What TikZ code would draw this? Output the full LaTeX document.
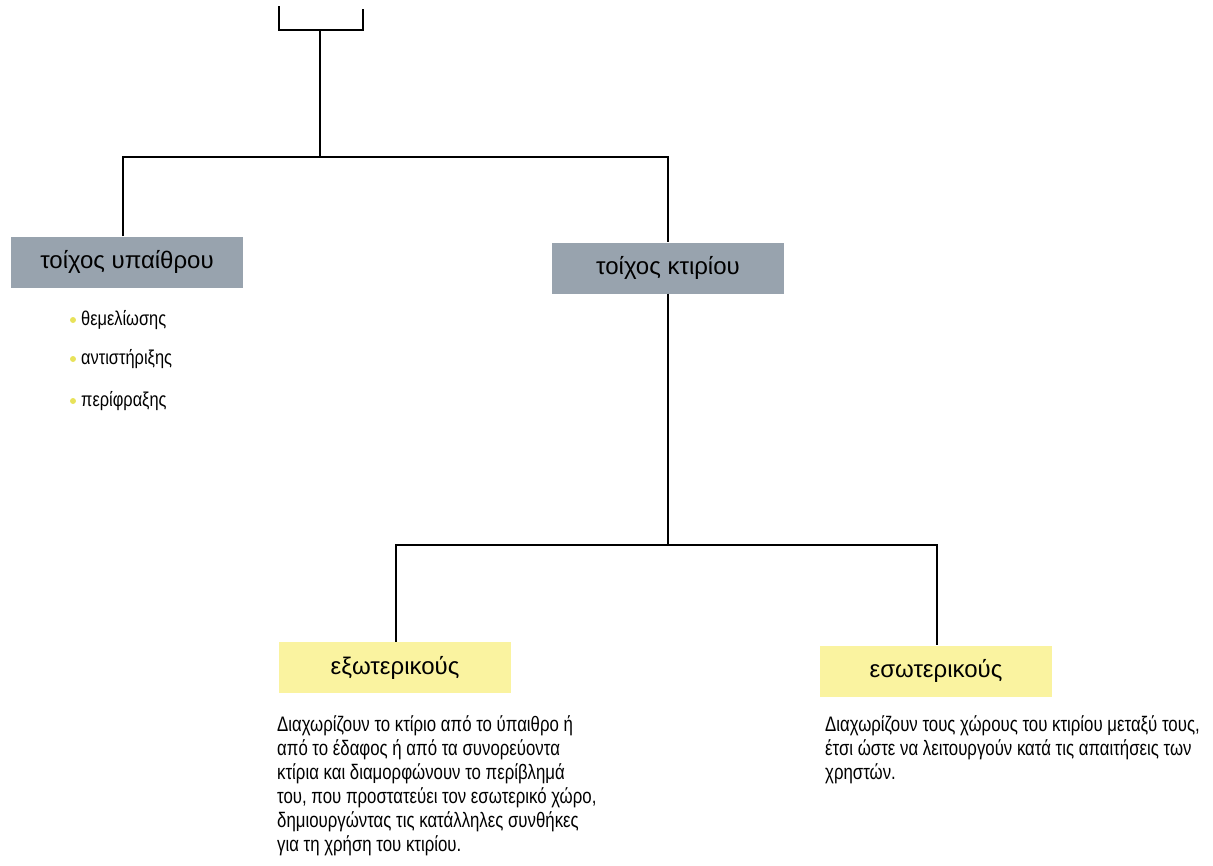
\documentclass[tikz,border=0pt]{standalone}
\usepackage{fontspec}
\setmainfont{Liberation Sans}
\newfontfamily\narrowfont{Liberation Sans}[FakeStretch=0.8]
\newfontfamily\bulletfont{Liberation Sans}[FakeStretch=0.82]
\definecolor{boxgray}{RGB}{152,163,174}
\definecolor{boxyellow}{RGB}{250,243,160}
\definecolor{dotyellow}{RGB}{232,226,90}
\begin{document}
\begin{tikzpicture}[x=1pt,y=-1pt,
  conn/.style={draw=black,line width=1.2pt},
  graybox/.style={fill=boxgray,minimum width=232,minimum height=51,inner sep=0,font=\fontsize{24}{28}\selectfont},
  yellowbox/.style={fill=boxyellow,minimum width=232,minimum height=51,inner sep=0,font=\fontsize{24}{28}\selectfont},
  para/.style={anchor=north west,inner sep=0,align=left,font=\narrowfont\fontsize{21}{24}\selectfont},
  bul/.style={circle,fill=dotyellow,inner sep=0,minimum size=6},
  bultext/.style={anchor=west,inner sep=0,font=\bulletfont\fontsize{20}{24}\selectfont}]
\useasboundingbox (0,0) rectangle (1213,865);
% nodes
\node[graybox] (tu) at (127,262) {τοίχος υπαίθρου};
\node[graybox] (tk) at (668,268) {τοίχος κτιρίου};
\node[yellowbox] (ex) at (395,667.5) {εξωτερικούς};
\node[yellowbox] (es) at (936,671) {εσωτερικούς};
% bracket at the top
\coordinate (tl) at (279,6);
\coordinate (tr) at (363,9);
\coordinate (bl) at (279,30);
\coordinate (br) at (363,30);
\coordinate (c) at (320,30);
\coordinate (j1) at (320,157);
\coordinate (j2) at (668,545);
\draw[conn] (tl) -- (bl) -- (br) -- (tr);
\draw[conn] (c) -- (j1);
\draw[conn] ([xshift=-4]tu.north) |- (j1) -| (tk.north);
\draw[conn] (tk.south) -- (j2);
\draw[conn] ([xshift=1]ex.north) |- (j2) -| ([xshift=1]es.north);
% bullet list
\node[bul] (b1) at (73,320) {};
\node[bultext] (t1) at (81,320) {θεμελίωσης};
\node[bul] (b2) at (73,359) {};
\node[bultext] (t2) at (81,359) {αντιστήριξης};
\node[bul] (b3) at (73,401) {};
\node[bultext] (t3) at (81,401) {περίφραξης};
% paragraphs
\node[para] (p1) at (277,715) {Διαχωρίζουν το κτίριο από το ύπαιθρο ή\\
από το έδαφος ή από τα συνορεύοντα\\
κτίρια και διαμορφώνουν το περίβλημά\\
του, που προστατεύει τον εσωτερικό χώρο,\\
δημιουργώντας τις κατάλληλες συνθήκες\\
για τη χρήση του κτιρίου.};
\node[para] (p2) at (825,715) {Διαχωρίζουν τους χώρους του κτιρίου μεταξύ τους,\\
έτσι ώστε να λειτουργούν κατά τις απαιτήσεις των\\
χρηστών.};
\end{tikzpicture}
\end{document}
